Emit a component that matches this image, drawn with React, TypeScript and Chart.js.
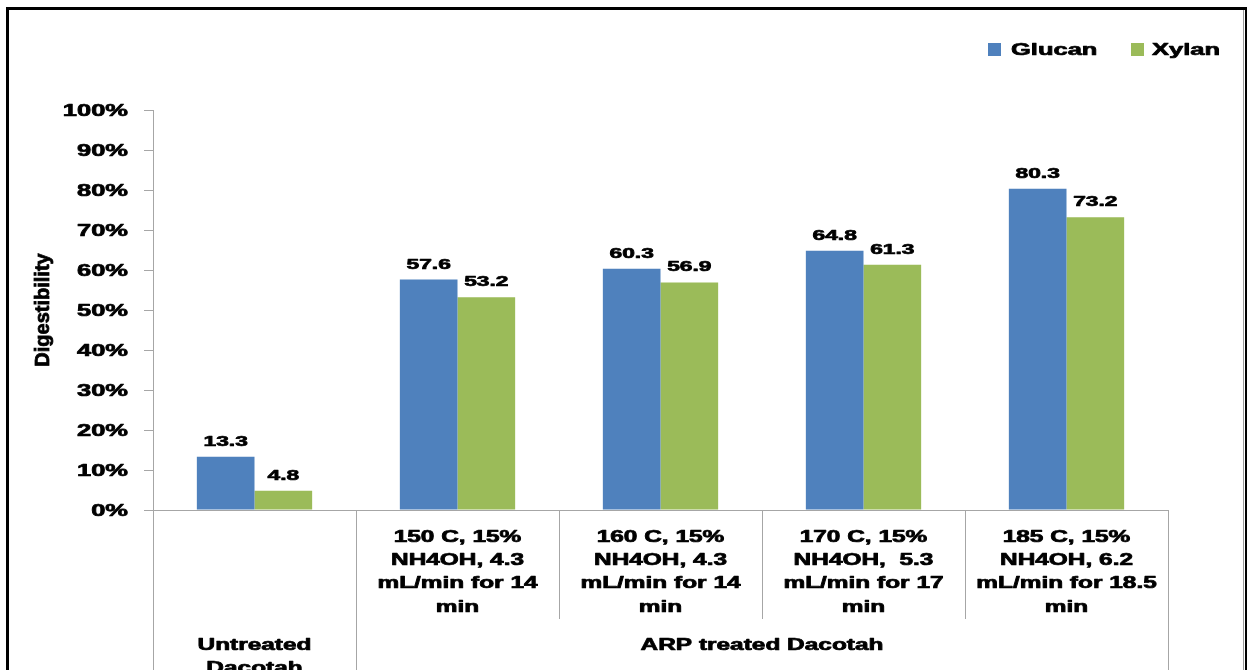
import React, { useEffect, useRef } from "react";
import { Chart, registerables } from "chart.js";

Chart.register(...registerables);

// Series values (percent digestibility)
const seriesNames = ["Glucan", "Xylan"];
const glucan = [13.3, 57.6, 60.3, 64.8, 80.3];
const xylan = [4.8, 53.2, 56.9, 61.3, 73.2];
const seriesColors = ["#4F81BD", "#9BBB59"];

// Inner category labels (one entry per bar group, split into lines)
const conditionLines: string[][] = [
  [],
  ["150 C, 15%", "NH4OH, 4.3", "mL/min for 14", "min"],
  ["160 C, 15%", "NH4OH, 4.3", "mL/min for 14", "min"],
  ["170 C, 15%", "NH4OH,  5.3", "mL/min for 17", "min"],
  ["185 C, 15%", "NH4OH, 6.2", "mL/min for 18.5", "min"],
];

// Outer category groups: label lines and the index range they span
const groupLabels: string[][] = [["Untreated", "Dacotah"], ["ARP treated Dacotah"]];
const groupStart = [0, 1];
const groupEnd = [0, 4];

const yTicks = [0, 10, 20, 30, 40, 50, 60, 70, 80, 90, 100];
const yTitle = "Digestibility";

const FONT = '"Liberation Sans", Arial, sans-serif';
const AXIS_GRAY = "#A6A6A6";
const SX = 1.5; // horizontal stretch of the bold labels

function wideText(
  ctx: CanvasRenderingContext2D,
  text: string,
  x: number,
  y: number,
  size: number,
  align: CanvasTextAlign,
  sx = SX
) {
  ctx.save();
  ctx.font = `bold ${size}px ${FONT}`;
  ctx.fillStyle = "#000";
  ctx.strokeStyle = "#000";
  ctx.lineWidth = 0.7;
  ctx.lineJoin = "round";
  ctx.textAlign = align;
  ctx.textBaseline = "alphabetic";
  ctx.translate(x, y);
  ctx.scale(sx, 1);
  ctx.fillText(text, 0, 0);
  ctx.strokeText(text, 0, 0);
  ctx.restore();
}

const decorations = {
  id: "decorations",
  afterDraw(chart: any) {
    const ctx: CanvasRenderingContext2D = chart.ctx;
    const xs = chart.scales.x;
    const ys = chart.scales.y;
    const area = chart.chartArea;
    const H = chart.height;
    const W = chart.width;

    // outer frame
    ctx.save();
    ctx.fillStyle = "#000";
    ctx.fillRect(6, 7, 3, H - 7);
    ctx.fillRect(6, 7, W - 6, 3);
    ctx.fillRect(W - 2, 7, 2, H - 7);
    ctx.fillStyle = "#9a9a9a";
    ctx.fillRect(W - 4, 10, 1, H - 10);
    ctx.restore();

    // y tick labels
    yTicks.forEach((v) => {
      const py = ys.getPixelForValue(v);
      wideText(ctx, `${v}%`, 128, py + 6, 17, "right");
    });

    // y title
    ctx.save();
    ctx.translate(49, (area.top + area.bottom) / 2);
    ctx.rotate(-Math.PI / 2);
    ctx.font = `bold 20px ${FONT}`;
    ctx.fillStyle = "#000";
    ctx.strokeStyle = "#000";
    ctx.lineWidth = 0.8;
    ctx.textAlign = "center";
    ctx.textBaseline = "alphabetic";
    ctx.fillText(yTitle, 0, 0);
    ctx.strokeText(yTitle, 0, 0);
    ctx.restore();

    // legend
    const legendX = [988, 1131];
    const legendTextX = [1011, 1152];
    seriesNames.forEach((name, i) => {
      ctx.fillStyle = seriesColors[i];
      ctx.fillRect(legendX[i], 43, 13, 13);
      wideText(ctx, name, legendTextX[i], 55, 17, "left");
    });

    // value labels above bars
    chart.data.datasets.forEach((ds: any, di: number) => {
      const meta = chart.getDatasetMeta(di);
      meta.data.forEach((bar: any, i: number) => {
        wideText(ctx, ds.data[i].toFixed(1), bar.x, bar.y - 11, 15, "center", 1.52);
      });
    });

    // inner category labels
    const catW = xs.width / conditionLines.length;
    conditionLines.forEach((lines, i) => {
      const cx = xs.getPixelForValue(i);
      lines.forEach((ln, k) => {
        wideText(ctx, ln, cx, 541.7 + k * 23.3, 16.3, "center");
      });
    });

    // outer group labels and separators
    ctx.save();
    ctx.strokeStyle = AXIS_GRAY;
    ctx.lineWidth = 1;
    const edges: number[] = [];
    groupLabels.forEach((lines, g) => {
      const left = xs.getPixelForValue(groupStart[g]) - catW / 2;
      const right = xs.getPixelForValue(groupEnd[g]) + catW / 2;
      edges.push(left, right);
      const cx = (left + right) / 2;
      lines.forEach((ln, k) => {
        wideText(ctx, ln, cx, 650 + k * 23.3, 16.3, "center");
      });
    });
    ctx.strokeStyle = AXIS_GRAY;
    ctx.lineWidth = 1;
    ctx.beginPath();
    edges.forEach((e) => {
      const px = Math.round(e) + 0.5;
      ctx.moveTo(px, area.bottom);
      ctx.lineTo(px, H);
    });
    ctx.stroke();
    ctx.restore();
  },
};

export default function App() {
  const canvasRef = useRef<HTMLCanvasElement | null>(null);

  useEffect(() => {
    const canvas = canvasRef.current;
    if (!canvas) return;
    const chart = new Chart(canvas, {
      type: "bar",
      data: {
        labels: conditionLines.map((l) => (l.length ? l.join(" ") : groupLabels[0].join(" "))),
        datasets: [
          {
            label: seriesNames[0],
            data: glucan,
            backgroundColor: seriesColors[0],
            categoryPercentage: 0.568,
            barPercentage: 1.0,
          },
          {
            label: seriesNames[1],
            data: xylan,
            backgroundColor: seriesColors[1],
            categoryPercentage: 0.568,
            barPercentage: 1.0,
          },
        ],
      },
      plugins: [decorations],
      options: {
        responsive: false,
        animation: false,
        devicePixelRatio: 1,
        layout: { padding: { left: 0, top: 110, right: 79, bottom: 0 } },
        plugins: {
          legend: { display: false },
          tooltip: { enabled: false },
        },
        scales: {
          x: {
            type: "category",
            offset: true,
            grid: {
              offset: true,
              drawOnChartArea: false,
              drawTicks: true,
              tickLength: 109,
              color: AXIS_GRAY,
            },
            border: { color: AXIS_GRAY },
            ticks: { display: false },
            afterFit: (s: any) => {
              s.height = 160;
            },
          },
          y: {
            min: 0,
            max: 100,
            ticks: { stepSize: 10, display: false },
            grid: {
              drawOnChartArea: false,
              drawTicks: true,
              tickLength: 9,
              color: AXIS_GRAY,
            },
            border: { color: AXIS_GRAY },
            afterFit: (s: any) => {
              s.width = 153;
            },
          },
        },
      },
    });
    return () => chart.destroy();
  }, []);

  return (
    <div style={{ position: "fixed", left: 0, top: 0, width: 1247, height: 670, background: "#fff" }}>
      <canvas ref={canvasRef} width={1247} height={670} />
    </div>
  );
}
